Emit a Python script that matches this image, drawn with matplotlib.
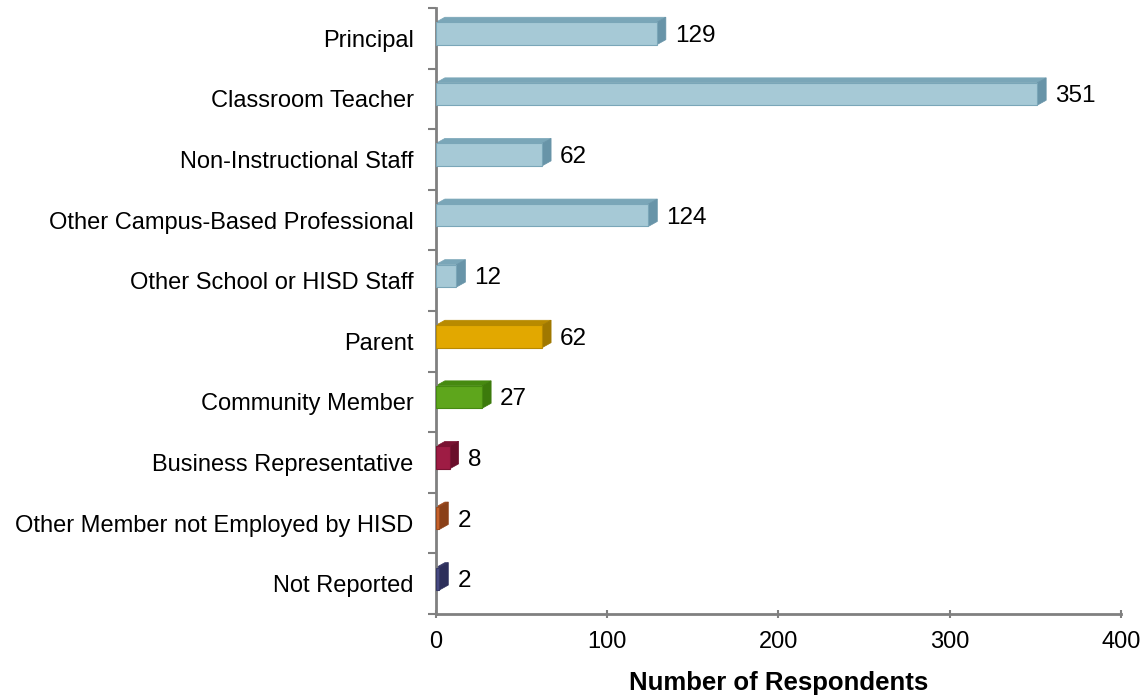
import matplotlib
matplotlib.use("Agg")
import matplotlib.pyplot as plt
from matplotlib.patches import Polygon
import numpy as np

plt.rcParams['font.family'] = ['Liberation Sans', 'DejaVu Sans']

categories = [
    "Principal",
    "Classroom Teacher",
    "Non-Instructional Staff",
    "Other Campus-Based Professional",
    "Other School or HISD Staff",
    "Parent",
    "Community Member",
    "Business Representative",
    "Other Member not Employed by HISD",
    "Not Reported",
]
respondents = [129, 351, 62, 124, 12, 62, 27, 8, 2, 2]

# front, top, side shades for each bar
blue = ("#a6c9d6", "#7aa6b8", "#6894a8")
bar_colors = [blue] * 5 + [
    ("#e2a800", "#b88a00", "#a07800"),
    ("#5ea61c", "#468a10", "#3c7a0c"),
    ("#9e1c44", "#7a1232", "#6a0e2a"),
    ("#c8642c", "#9e4a1e", "#8a4018"),
    ("#4a4c84", "#363866", "#2c2e5a"),
]

fig = plt.figure(figsize=(11.44, 6.96), dpi=100)
ax = fig.add_axes([0.381, 0.1178, 0.599, 0.8707])

xmax = 400
ax.set_xlim(0, xmax)
ax.set_ylim(len(categories) - 0.5, -0.5)

# depth of the 3-D effect in data units (~9 px right, ~5 px up)
ax_w_px = 0.599 * 1144
ax_h_px = 0.8707 * 696
dx = 9 / ax_w_px * xmax
dy = 5 / ax_h_px * len(categories)
h = 0.37
shift = -0.08

for i, (val, (cf, ct, cs)) in enumerate(zip(respondents, bar_colors)):
    yc = i + shift
    y0, y1 = yc + h / 2, yc - h / 2  # bottom, top (inverted axis)
    front = Polygon([(0, y0), (val, y0), (val, y1), (0, y1)], closed=True,
                    facecolor=cf, edgecolor=ct, linewidth=0.8, zorder=3)
    top = Polygon([(0, y1), (val, y1), (val + dx, y1 - dy), (dx, y1 - dy)],
                  closed=True, facecolor=ct, edgecolor=ct, linewidth=0.5, zorder=2)
    side = Polygon([(val, y0), (val + dx, y0 - dy), (val + dx, y1 - dy), (val, y1)],
                   closed=True, facecolor=cs, edgecolor=cs, linewidth=0.5, zorder=2)
    for p in (top, side, front):
        ax.add_patch(p)
    ax.text(val + dx + 9 / ax_w_px * xmax, yc + 0.04, f"{val}", va="center", ha="left",
            fontsize=17.5, color="black")

ax.set_yticks(range(len(categories)))
ax.set_yticklabels(categories, fontsize=17)
ax.set_yticks(np.arange(-0.5, len(categories), 1), minor=True)
ax.tick_params(axis="y", which="major", length=0, pad=16)
ax.tick_params(axis="y", which="minor", length=6, width=1.5, color="#808080", direction="out")

ax.set_xticks([0, 100, 200, 300, 400])
ax.tick_params(axis="x", which="major", length=6, width=1.5, color="#808080",
               direction="inout", labelsize=17, pad=9)
ax.set_xlabel("Number of Respondents", fontsize=18.5, fontweight="bold", labelpad=13)

for s in ("top", "right"):
    ax.spines[s].set_visible(False)
for s in ("left", "bottom"):
    ax.spines[s].set_color("#808080")
    ax.spines[s].set_linewidth(2)

fig.savefig("out.png", dpi=100)
